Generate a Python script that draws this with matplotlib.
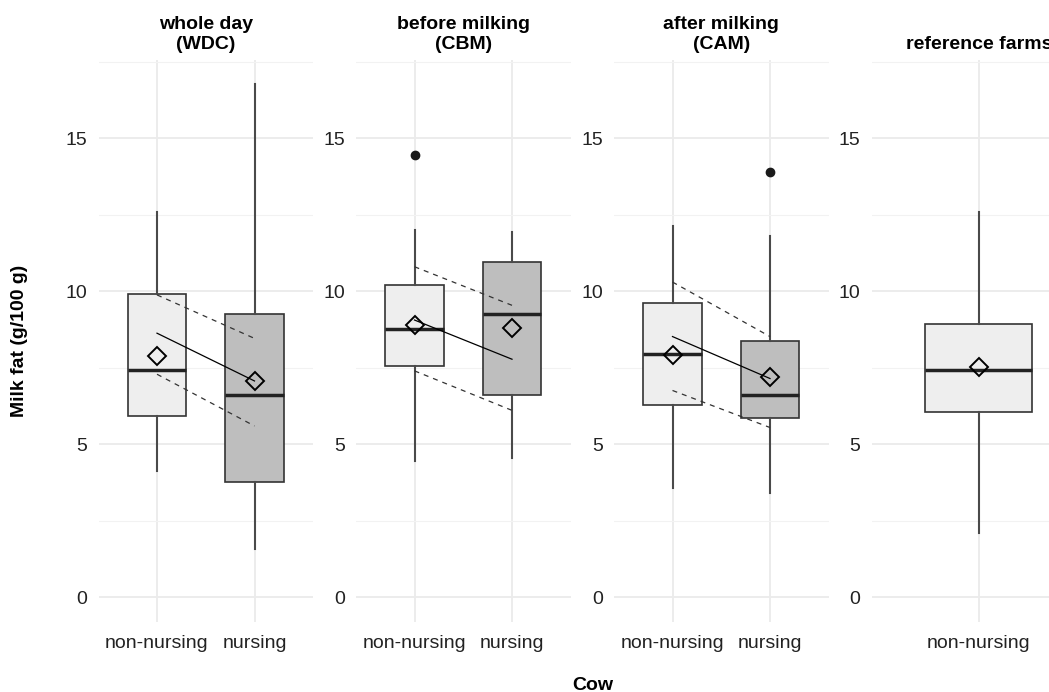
import matplotlib.pyplot as plt
from matplotlib.ticker import MultipleLocator

plt.rcParams['font.family'] = ['Liberation Sans', 'DejaVu Sans']

# paneles (facetas)
titulos = ['whole day\n(WDC)', 'before milking\n(CBM)', 'after milking\n(CAM)', 'reference farms']
categorias = [['non-nursing', 'nursing'], ['non-nursing', 'nursing'],
              ['non-nursing', 'nursing'], ['non-nursing']]

# estadisticos de cada caja: bigote inf, Q1, mediana, Q3, bigote sup, media
bigote_inf = [[4.13, 1.57], [4.45, 4.56], [3.58, 3.42], [2.11]]
q1 = [[5.93, 3.78], [7.56, 6.61], [6.27, 5.85], [6.07]]
mediana = [[7.42, 6.62], [8.78, 9.25], [7.96, 6.62], [7.42]]
q3 = [[9.90, 9.25], [10.20, 10.94], [9.63, 8.38], [8.92]]
bigote_sup = [[12.60, 16.76], [12.00, 11.95], [12.13, 11.80], [12.60]]
media = [[7.90, 7.07], [8.89, 8.80], [7.91, 7.21], [7.52]]
atipicos = [[[], []], [[14.44], []], [[], [13.90]], [[]]]

# estimaciones del modelo (non-nursing -> nursing) con intervalo
estimado = [[8.63, 7.07], [9.06, 7.78], [8.52, 7.15]]
limite_sup = [[9.88, 8.46], [10.80, 9.54], [10.30, 8.52]]
limite_inf = [[7.29, 5.60], [7.40, 6.11], [6.76, 5.55]]

rellenos = ['#EEEEEE', '#BEBEBE']

fig = plt.figure(figsize=(10.49, 6.92), dpi=100)
W, H = 1049, 692
izquierdas = [98.5, 356, 614, 871.5]
ancho = 214.5
arriba, abajo = 60, 622

for i in range(4):
    ax = fig.add_axes([izquierdas[i] / W, 1 - abajo / H, ancho / W, (abajo - arriba) / H])
    n = len(categorias[i])
    pos = list(range(1, n + 1))
    stats = []
    for j in range(n):
        stats.append(dict(whislo=bigote_inf[i][j], q1=q1[i][j], med=mediana[i][j],
                          q3=q3[i][j], whishi=bigote_sup[i][j], mean=media[i][j],
                          fliers=atipicos[i][j]))
    cajas = ax.bxp(stats, positions=pos, widths=0.6, patch_artist=True, showmeans=True,
                   showcaps=False, zorder=3,
                   boxprops=dict(edgecolor='#333333', linewidth=1.2),
                   whiskerprops=dict(color='#4a4a4a', linewidth=1.5),
                   medianprops=dict(color='#222222', linewidth=2.5),
                   meanprops=dict(marker='D', markerfacecolor='none', markeredgecolor='black',
                                  markersize=9, markeredgewidth=1.4),
                   flierprops=dict(marker='o', markerfacecolor='#1a1a1a',
                                   markeredgecolor='#1a1a1a', markersize=6))
    for j, caja in enumerate(cajas['boxes']):
        caja.set_facecolor(rellenos[j])

    if i < 3:
        ax.plot(pos, estimado[i], color='black', linewidth=0.9, zorder=4)
        ax.plot(pos, limite_sup[i], color='#333333', linewidth=0.9, linestyle=(0, (4, 4)), zorder=4)
        ax.plot(pos, limite_inf[i], color='#333333', linewidth=0.9, linestyle=(0, (4, 4)), zorder=4)

    ax.set_xlim(0.4, n + 0.6)
    ax.set_ylim(-0.8, 17.55)
    ax.set_xticks(pos)
    ax.set_xticklabels(categorias[i])
    ax.yaxis.set_major_locator(MultipleLocator(5))
    ax.yaxis.set_minor_locator(MultipleLocator(2.5))
    ax.grid(True, which='major', color='#EBEBEB', linewidth=1.3, zorder=0)
    ax.grid(True, which='minor', axis='y', color='#F2F2F2', linewidth=0.8, zorder=0)
    ax.set_axisbelow(True)
    for lado in ax.spines.values():
        lado.set_visible(False)
    ax.tick_params(which='both', length=0, labelsize=14, colors='#222222', pad=8)
    ax.tick_params(axis='x', pad=9)
    ax.set_title(titulos[i], fontsize=14, fontweight='bold', linespacing=1.2, pad=8)

fig.text(20 / W, 1 - 341 / H, 'Milk fat (g/100 g)', rotation=90, fontsize=14,
         fontweight='bold', ha='center', va='center')
fig.text(593 / W, 1 - 685 / H, 'Cow', fontsize=14, fontweight='bold', ha='center', va='center')

fig.savefig('out.png', dpi=100)
